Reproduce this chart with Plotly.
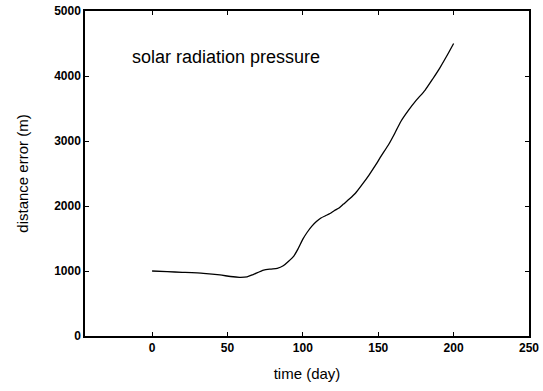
import plotly.graph_objects as go

# Distance error growth due to solar radiation pressure
days = [0, 10, 20, 34, 45, 52, 58, 63, 67, 74, 79, 83, 87, 90, 94, 97, 100,
        103, 106, 109, 112, 115, 118, 121, 124, 127, 131, 135, 139, 144, 148,
        152, 157, 161, 165, 170, 175, 181, 186, 191, 196, 200]
error_m = [1000, 990, 980, 964, 940, 915, 903, 910, 945, 1015, 1030, 1040, 1080,
           1140, 1230, 1350, 1490, 1600, 1690, 1760, 1815, 1850, 1885, 1930,
           1970, 2030, 2110, 2200, 2320, 2480, 2620, 2770, 2950, 3120, 3300,
           3470, 3620, 3780, 3950, 4130, 4330, 4500]

x_ticks = [0, 50, 100, 150, 200, 250]
y_ticks = [0, 1000, 2000, 3000, 4000, 5000]

FONT = "Liberation Sans, Arial, sans-serif"

fig = go.Figure()
fig.add_trace(go.Scatter(
    x=days, y=error_m, mode="lines",
    line=dict(color="black", width=1.3, shape="spline", smoothing=0.6),
    showlegend=False,
))

fig.add_annotation(
    x=-14.5, y=4290, xref="x", yref="y", xanchor="left", yanchor="middle",
    text="solar radiation pressure", showarrow=False,
    font=dict(family=FONT, size=18, color="black"),
)

axis_common = dict(
    showline=True, linecolor="black", linewidth=1.5, mirror="ticks",
    ticks="inside", ticklen=4, tickwidth=1, tickcolor="black",
    showgrid=False, zeroline=False, automargin=False,
    tickfont=dict(family=FONT, size=12, color="black", weight="bold"),
    title_font=dict(family=FONT, size=15, color="black"),
)

fig.update_xaxes(range=[-44.5, 250], tickvals=x_ticks,
                 ticktext=[str(v) for v in x_ticks],
                 title_text="time (day)", title_standoff=14, **axis_common)
fig.update_yaxes(range=[0, 5000], tickvals=y_ticks,
                 ticktext=[str(v) for v in y_ticks],
                 title_text="distance error (m)", title_standoff=22,
                 **axis_common)

fig.update_layout(
    width=543, height=391,
    margin=dict(l=85, r=14, t=11, b=55),
    paper_bgcolor="white", plot_bgcolor="white",
)

fig.write_html("out.html")
